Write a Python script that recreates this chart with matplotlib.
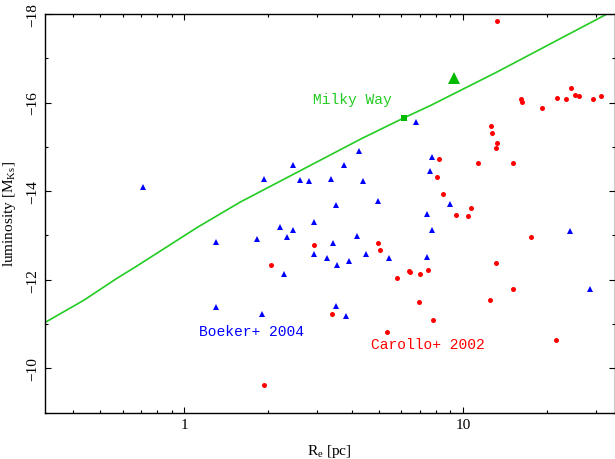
"""Nuclear star cluster luminosity vs effective radius."""

import matplotlib
matplotlib.use("Agg")
import matplotlib.pyplot as plt
from matplotlib.ticker import FixedLocator, NullFormatter, MultipleLocator

plt.rcParams["font.family"] = "Liberation Serif"
plt.rcParams["mathtext.fontset"] = "custom"
plt.rcParams["mathtext.rm"] = "Liberation Serif"
plt.rcParams["mathtext.it"] = "Liberation Serif:italic"

# Milky Way track (R_e in pc, M_Ks)
mw_re = [0.30, 0.437, 0.576, 0.661, 1.113, 1.585, 4.34, 6.17, 7.63, 13.25, 32.9]
mw_mag = [-10.95, -11.54, -12.04, -12.27, -13.18, -13.75, -15.19, -15.66,
          -15.93, -16.69, -18.0]
mw_square = (6.17, -15.66)
mw_triangle = (9.31, -16.56)

# Boeker+ 2004
boeker_re = [0.712, 1.30, 1.30, 1.94, 1.82, 1.90, 2.21, 2.27, 2.33, 2.45,
             2.45, 2.60, 2.80, 2.93, 2.91, 3.26, 3.37, 3.43, 3.49, 3.52,
             3.49, 3.73, 3.81, 3.90, 4.18, 4.24, 4.38, 4.48, 4.95, 5.45,
             6.81, 7.46, 7.61, 7.46, 7.74, 7.72, 8.98, 24.3, 28.7]
boeker_mag = [-14.10, -12.86, -11.39, -14.27, -12.92, -11.22, -13.18, -12.12, -12.97, -14.59,
              -13.13, -14.25, -14.22, -13.31, -12.57, -12.49, -14.28, -12.82, -13.68, -12.34,
              -11.41, -14.58, -11.19, -12.43, -12.99, -14.91, -14.22, -12.59, -13.77, -12.49,
              -15.57, -13.48, -14.46, -12.52, -14.76, -13.12, -13.71, -13.09, -11.78]

# Carollo+ 2002
carollo_re = [1.94, 2.04, 2.91, 3.39, 4.95, 5.06, 5.33, 5.81, 6.40, 6.45,
              7.01, 6.97, 7.52, 7.80, 8.09, 8.24, 8.50, 9.44, 10.45, 10.7,
              11.3, 12.5, 12.6, 12.7, 13.1, 13.2, 13.1, 13.3, 15.1, 15.1,
              16.2, 16.3, 17.5, 19.2, 21.6, 21.8, 23.4, 24.4, 25.2, 26.1,
              29.4, 31.2]
carollo_mag = [-9.62, -12.32, -12.78, -11.23, -12.83, -12.67, -10.81, -12.04, -12.20, -12.18,
               -12.13, -11.49, -12.22, -11.10, -14.31, -14.72, -13.93, -13.45, -13.43, -13.62,
               -14.64, -11.53, -15.47, -15.32, -14.97, -15.08, -12.37, -17.84, -14.64, -11.80,
               -16.07, -16.02, -12.97, -15.87, -10.64, -16.11, -16.07, -16.34, -16.17, -16.14,
               -16.09, -16.14]

fig = plt.figure(figsize=(6.15, 4.6), dpi=100)
ax = fig.add_axes([45 / 615, 46.5 / 460, 569.5 / 615, 398.5 / 460])

ax.plot(mw_re, mw_mag, color="#22cc22", lw=1.2)
ax.plot(*mw_square, marker="s", ms=5, color="#00bb00", mew=0)
ax.plot(*mw_triangle, marker="^", ms=8.5, color="#00bb00", mew=0)
ax.plot(boeker_re, boeker_mag, ls="none", marker="^", ms=4.3, color="#0000ff", mew=0)
ax.plot(carollo_re, carollo_mag, ls="none", marker="o", ms=3.6, color="#ff0000", mew=0)

ax.text(2.90, -16.09, "Milky Way", color="#22cc22", family="Liberation Mono",
        fontsize=10.5, va="center", ha="left")
ax.text(1.13, -10.83, "Boeker+ 2004", color="#0000ff", family="Liberation Mono",
        fontsize=10.5, va="center", ha="left")
ax.text(4.69, -10.55, "Carollo+ 2002", color="#ff0000", family="Liberation Mono",
        fontsize=10.5, va="center", ha="left")

ax.set_xscale("log")
ax.set_xlim(0.3162, 35)
ax.set_ylim(-9, -18)

ax.xaxis.set_major_locator(FixedLocator([1, 10]))
ax.set_xticklabels(["1", "10"])
ax.xaxis.set_minor_locator(FixedLocator([0.4, 0.5, 0.6, 0.7, 0.8, 0.9,
                                         2, 3, 4, 5, 6, 7, 8, 9, 20, 30]))
ax.xaxis.set_minor_formatter(NullFormatter())
ax.yaxis.set_major_locator(MultipleLocator(2))
ax.yaxis.set_minor_locator(MultipleLocator(1))

ax.tick_params(which="both", direction="in", top=True, right=True, labelsize=11)
ax.tick_params(which="major", length=4.5, width=0.8, pad=4)
ax.tick_params(which="minor", length=2.2, width=0.8)
for lbl in ax.get_yticklabels():
    lbl.set_rotation(90)
    lbl.set_va("center")
for sp in ax.spines.values():
    sp.set_linewidth(1.0)

ax.set_xlabel(r"R$_{\rm e}$ [pc]", fontsize=11, labelpad=8)
ax.set_ylabel(r"luminosity [M$_{\rm Ks}$]", fontsize=11, labelpad=6)

fig.savefig("out.png", dpi=100)
